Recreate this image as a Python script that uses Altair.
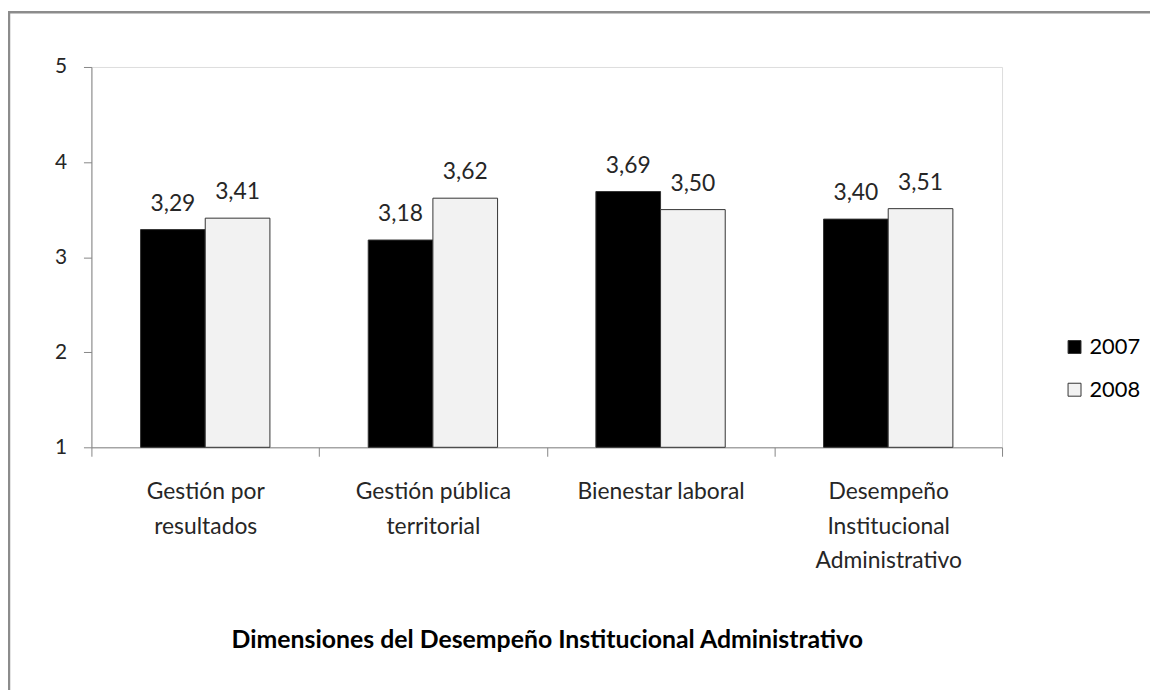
import altair as alt
import pandas as pd

categories = ["Gestión por|resultados", "Gestión pública|territorial", "Bienestar laboral",
              "Desempeño|Institucional|Administrativo"]
years = ["2007", "2008"]
values_2007 = [3.29, 3.18, 3.69, 3.40]
values_2008 = [3.41, 3.62, 3.50, 3.51]
y_ticks = [1, 2, 3, 4, 5]

rows = []
for c, a, b in zip(categories, values_2007, values_2008):
    rows.append({"cat": c, "year": years[0], "value": a})
    rows.append({"cat": c, "year": years[1], "value": b})
df = pd.DataFrame(rows)

W, H = 917, 383
FONT = "Lato"
AXIS_GRAY = "#868686"
TEXT = "#262626"

x_enc = alt.X(
    "cat:N", sort=categories,
    scale=alt.Scale(paddingInner=0, paddingOuter=0),
    axis=alt.Axis(
        title="Dimensiones del Desempeño Institucional Administrativo",
        labelExpr="split(datum.label, '|')",
        labelAngle=0, tickBand="extent", tickSize=9, tickColor=AXIS_GRAY,
        domainColor=AXIS_GRAY, labelFont=FONT, labelFontSize=23, labelColor=TEXT,
        labelLineHeight=34.5, labelPadding=25, labelBaseline="top",
        titleFont=FONT, titleFontSize=25, titleFontWeight="bold", titleColor="#000000",
        titleX=W / 2, titleY=202, titleAnchor="middle", titleAlign="center",
        titleBaseline="alphabetic",
    ),
)
xoff = alt.XOffset("year:N", sort=years, scale=alt.Scale(paddingInner=0, paddingOuter=0.76))
y_enc = alt.Y(
    "value:Q",
    scale=alt.Scale(domain=[1, 5], zero=False, nice=False),
    axis=alt.Axis(
        title=None, values=y_ticks, grid=False, tickSize=8, tickColor=AXIS_GRAY,
        domainColor=AXIS_GRAY, labelFont=FONT, labelFontSize=21, labelColor=TEXT,
        labelPadding=17, format="d",
    ),
)

base = alt.Chart(df)

bars = base.mark_bar(stroke="#333333", strokeWidth=1).encode(
    x=x_enc,
    xOffset=xoff,
    y=y_enc,
    y2=alt.datum(1),
    color=alt.Color(
        "year:N", sort=years,
        scale=alt.Scale(domain=years, range=["#000000", "#f2f2f2"]),
        legend=alt.Legend(
            title=None, orient="none", legendX=979, legendY=271,
            symbolType="square", symbolSize=170, symbolStrokeColor="#333333",
            symbolStrokeWidth=1, labelFont=FONT, labelFontSize=22, labelColor="#000000",
            rowPadding=21, labelOffset=4,
        ),
    ),
)

labels = base.mark_text(font=FONT, fontSize=23, color=TEXT, baseline="alphabetic", dy=-19).encode(
    x=alt.X("cat:N", sort=categories),
    xOffset=alt.XOffset("year:N", sort=years),
    y=alt.Y("value:Q"),
    text=alt.Text("label:N"),
).transform_calculate(label="replace(format(datum.value, '.2f'), '.', ',')")

frame_df = pd.DataFrame({"k": [0]})
frame_top = alt.Chart(frame_df).mark_rule(color="#8c8c8c", strokeWidth=2.5).encode(
    x=alt.value(-84), x2=alt.value(W + 160), y=alt.value(-55)
)
frame_left = alt.Chart(frame_df).mark_rule(color="#8c8c8c", strokeWidth=2.5).encode(
    x=alt.value(-83), y=alt.value(-55), y2=alt.value(H + 250)
)

chart = alt.layer(bars, labels, frame_top, frame_left).properties(
    width=W, height=H,
    padding={"left": 84, "top": 57, "right": 149, "bottom": 242},
    autosize=alt.AutoSizeParams(type="none"),
).configure_view(stroke=None).configure(background="#ffffff")

chart.save("out.html", embed_options={"renderer": "svg", "actions": False})
